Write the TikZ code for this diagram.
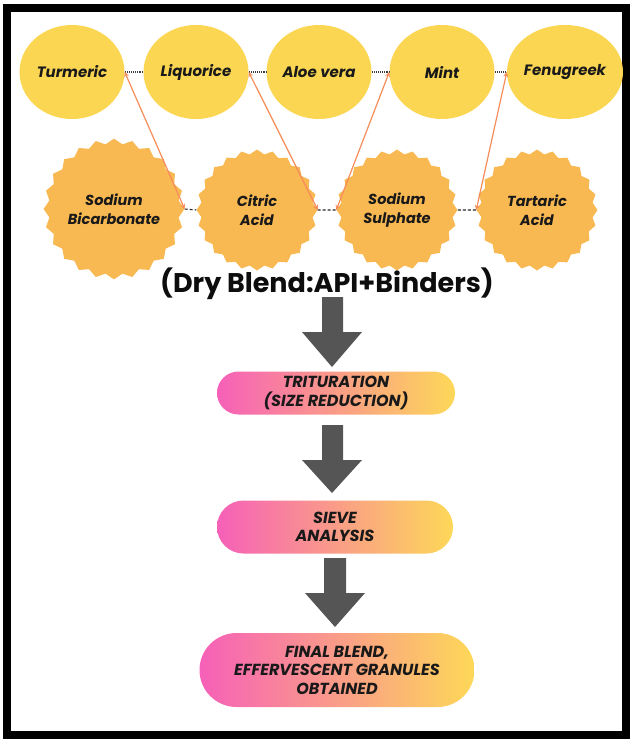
\documentclass[tikz,border=0pt]{standalone}
\usepackage{fontspec}
\setmainfont{Poppins}
\usetikzlibrary{shapes.geometric,shapes.misc,arrows.meta}
\definecolor{herbyellow}{RGB}{250,214,82}
\definecolor{saltorange}{RGB}{248,184,82}
\definecolor{linkorange}{RGB}{246,140,90}
\definecolor{arrowgray}{RGB}{85,85,85}
\definecolor{gradpink}{RGB}{246,96,184}
\definecolor{gradpeach}{RGB}{251,166,140}
\definecolor{gradyellow}{RGB}{253,216,88}
\newcommand{\lbl}[1]{\fontsize{#1}{18.5}\selectfont\bfseries\itshape}
\tikzset{
    herb/.style={ellipse, fill=herbyellow, minimum width=105pt, minimum height=94pt, inner sep=0pt, font=\lbl{15}, text=black!90},
    salt/.style={star, star points=24, star point ratio=1.08, fill=saltorange, minimum size=121pt, inner sep=0pt, align=center, font=\lbl{14.5}, text=black!90},
    stepnode/.style={rounded rectangle, shading=axis, left color=gradpink, middle color=gradpeach, right color=gradyellow, shading angle=90, inner sep=0pt, align=center, font=\lbl{16}, text=black!90},
    link/.style={linkorange, line width=1.2pt, {Stealth[length=5pt,width=5pt]}-{Stealth[length=5pt,width=5pt]}},
    bond/.style={densely dotted, line width=1.1pt, black!75},
    bondsalt/.style={dash pattern=on 3pt off 2pt, line width=1.1pt, black!85},
    bigarrow/.style={fill=arrowgray}
}
\begin{document}
\begin{tikzpicture}[x=1pt,y=-1pt]

    \useasboundingbox (0,0) rectangle (633,740);
    \draw[line width=8pt] (7,8) rectangle (626,735);

    % herbs
    \node[herb] (tur) at (72,72) {Turmeric};
    \node[herb] (liq) at (196,72) {Liquorice};
    \node[herb] (aloe) at (319,72) {Aloe vera};
    \node[herb] (mint) at (442,72) {Mint};
    \node[herb] (fenu) at (565,72) {Fenugreek};

    % salts and acids
    \node[salt] (sbic) at (114,209) {Sodium\\Bicarbonate};
    \node[salt] (cit) at (257,210) {Citric\\Acid};
    \node[salt] (ssul) at (397,210) {Sodium\\Sulphate};
    \node[salt] (tart) at (537,210) {Tartaric\\Acid};

    \draw[bond] (tur.east) -- (liq.west);
    \draw[bond] (liq.east) -- (aloe.west);
    \draw[bond] (aloe.east) -- (mint.west);
    \draw[bond] (mint.east) -- (fenu.west);

    \draw[bondsalt] (sbic.east) -- (cit.west);
    \draw[bondsalt] (cit.east) -- (ssul.west);
    \draw[bondsalt] (ssul.east) -- (tart.west);

    \draw[link] (tur.east) -- (sbic.east);
    \draw[link] (liq.east) -- (cit.east);
    \draw[link] (ssul.west) -- (mint.west);
    \draw[link] (tart.west) -- (fenu.west);

    \node[font=\fontsize{27}{32}\selectfont\bfseries, text=black!95] (blend) at (327,284) {(Dry Blend:API+Binders)};

    % process steps
    \node[stepnode, minimum width=238pt, minimum height=43pt] (trit) at (336,393) {TRITURATION\\(SIZE REDUCTION)};
    \node[stepnode, minimum width=236pt, minimum height=53pt] (sieve) at (335,527) {SIEVE\\ANALYSIS};
    \node[stepnode, minimum width=275pt, minimum height=74pt] (final) at (337,670) {FINAL BLEND,\\EFFERVESCENT GRANULES\\OBTAINED};

    \fill[bigarrow] (322,297) -- (343,297) -- (343,332) -- (362,332) -- (332,367) -- (302,332) -- (322,332) -- cycle;
    \fill[bigarrow] (322,425) -- (343,425) -- (343,460) -- (362,460) -- (332,493) -- (302,460) -- (322,460) -- cycle;
    \fill[bigarrow] (324,558) -- (346,558) -- (346,593) -- (365,593) -- (335,627) -- (305,593) -- (324,593) -- cycle;

\end{tikzpicture}
\end{document}
